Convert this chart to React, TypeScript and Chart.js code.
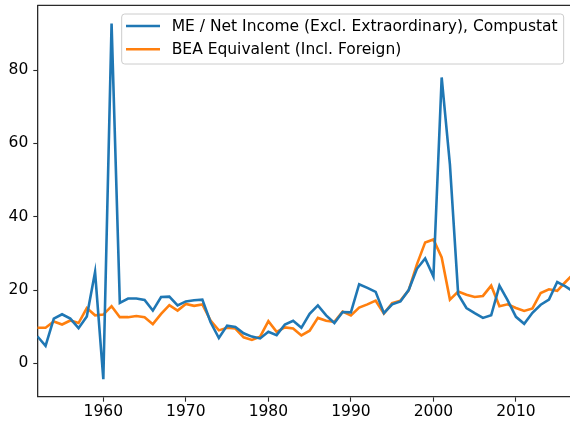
import React, { useEffect, useRef } from "react";
import { Chart, registerables } from "chart.js";

Chart.register(...registerables);

const years: number[] = [
  1952, 1953, 1954, 1955, 1956, 1957, 1958, 1959, 1960, 1961,
  1962, 1963, 1964, 1965, 1966, 1967, 1968, 1969, 1970, 1971,
  1972, 1973, 1974, 1975, 1976, 1977, 1978, 1979, 1980, 1981,
  1982, 1983, 1984, 1985, 1986, 1987, 1988, 1989, 1990, 1991,
  1992, 1993, 1994, 1995, 1996, 1997, 1998, 1999, 2000, 2001,
  2002, 2003, 2004, 2005, 2006, 2007, 2008, 2009, 2010, 2011,
  2012, 2013, 2014, 2015, 2016, 2017,
];

const meNetIncome: number[] = [
  7.4, 4.8, 12.2, 13.4, 12.2, 9.6, 12.8, 24.9, -4.3, 92.7,
  16.5, 17.7, 17.7, 17.3, 14.4, 18.1, 18.2, 15.8, 16.9, 17.2,
  17.4, 11.2, 6.9, 10.3, 9.9, 8.2, 7.3, 6.8, 8.6, 7.7,
  10.6, 11.6, 9.7, 13.5, 15.8, 13.1, 11.0, 14.0, 13.9, 21.6,
  20.6, 19.5, 13.7, 16.1, 16.9, 20.0, 25.8, 28.6, 23.7, 78.0,
  54.2, 18.8, 15.1, 13.7, 12.4, 13.1, 21.2, 17.2, 12.7, 10.8,
  13.8, 16.0, 17.4, 22.2, 21.0, 19.5,
];

const beaEquivalent: number[] = [
  9.7, 9.7, 11.4, 10.6, 11.7, 11.0, 15.1, 13.1, 13.3, 15.6,
  12.6, 12.6, 12.9, 12.6, 10.7, 13.5, 15.9, 14.4, 16.2, 15.7,
  16.1, 11.7, 9.0, 9.7, 9.5, 7.1, 6.4, 7.3, 11.5, 8.6,
  9.8, 9.5, 7.6, 8.9, 12.4, 11.6, 11.3, 14.1, 13.1, 15.2,
  16.1, 17.1, 13.6, 16.4, 17.1, 19.9, 27.0, 33.0, 33.8, 28.9,
  17.4, 19.6, 18.7, 18.1, 18.4, 21.2, 15.6, 16.1, 15.1, 14.3,
  15.0, 19.2, 20.2, 19.8, 22.2, 24.5,
];

const seriesLabels: string[] = [
  "ME / Net Income (Excl. Extraordinary), Compustat",
  "BEA Equivalent (Incl. Foreign)",
];
const seriesColors: string[] = ["#1f77b4", "#ff7f0e"];

const xTicks: number[] = [1960, 1970, 1980, 1990, 2000, 2010];
const yTicks: number[] = [0, 20, 40, 60, 80];

const FONT = "DejaVu Sans";
const FONT_SIZE = 15.5;
const SPINE = "#2a2a2a";
const LINE_W = 2.6;

const framePlugin = {
  id: "frameAndLegend",
  afterDraw(chart: any) {
    const ctx = chart.ctx as CanvasRenderingContext2D;
    const area = chart.chartArea;
    ctx.save();
    // top spine
    ctx.strokeStyle = SPINE;
    ctx.lineWidth = 1.3;
    ctx.beginPath();
    ctx.moveTo(area.left, area.top);
    ctx.lineTo(area.right, area.top);
    ctx.stroke();

    // legend
    ctx.font = `${FONT_SIZE}px "${FONT}"`;
    const textX = 171.7;
    let maxW = 0;
    chart.data.datasets.forEach((ds: any) => {
      maxW = Math.max(maxW, ctx.measureText(ds.label).width);
    });
    const bx = 121.7;
    const by = 14;
    const bw = textX + maxW + 6 - bx;
    const bh = 50;
    const r = 3;
    ctx.beginPath();
    ctx.moveTo(bx + r, by);
    ctx.lineTo(bx + bw - r, by);
    ctx.arcTo(bx + bw, by, bx + bw, by + r, r);
    ctx.lineTo(bx + bw, by + bh - r);
    ctx.arcTo(bx + bw, by + bh, bx + bw - r, by + bh, r);
    ctx.lineTo(bx + r, by + bh);
    ctx.arcTo(bx, by + bh, bx, by + bh - r, r);
    ctx.lineTo(bx, by + r);
    ctx.arcTo(bx, by, bx + r, by, r);
    ctx.closePath();
    ctx.fillStyle = "rgba(255,255,255,0.8)";
    ctx.fill();
    ctx.strokeStyle = "#cccccc";
    ctx.lineWidth = 1;
    ctx.stroke();

    const rows = [26, 49.3];
    chart.data.datasets.forEach((ds: any, i: number) => {
      const yy = rows[i];
      ctx.strokeStyle = ds.borderColor;
      ctx.lineWidth = LINE_W;
      ctx.beginPath();
      ctx.moveTo(126, yy);
      ctx.lineTo(160, yy);
      ctx.stroke();
      ctx.fillStyle = "#000000";
      ctx.textAlign = "left";
      ctx.textBaseline = "middle";
      ctx.fillText(ds.label, textX, yy + 0.5);
    });
    ctx.restore();
  },
};

export default function App() {
  const canvasRef = useRef<HTMLCanvasElement | null>(null);

  useEffect(() => {
    document.body.style.margin = "0";
    const canvas = canvasRef.current;
    if (!canvas) return;
    const chart = new Chart(canvas, {
      type: "line",
      data: {
        datasets: [
          {
            label: seriesLabels[0],
            data: years.map((yr, i) => ({ x: yr, y: meNetIncome[i] })),
            borderColor: seriesColors[0],
            backgroundColor: seriesColors[0],
            borderWidth: LINE_W,
            pointRadius: 0,
            tension: 0,
            fill: false,
          },
          {
            label: seriesLabels[1],
            data: years.map((yr, i) => ({ x: yr, y: beaEquivalent[i] })),
            borderColor: seriesColors[1],
            backgroundColor: seriesColors[1],
            borderWidth: LINE_W,
            pointRadius: 0,
            tension: 0,
            fill: false,
          },
        ],
      },
      plugins: [framePlugin],
      options: {
        animation: false,
        responsive: false,
        maintainAspectRatio: false,
        layout: { padding: { top: 5.3, left: 0, right: 0, bottom: 0 } },
        plugins: {
          legend: { display: false },
          tooltip: { enabled: false },
        },
        scales: {
          x: {
            type: "linear",
            min: 1952,
            max: 2016.55,
            afterBuildTicks: (scale: any) => {
              scale.ticks = xTicks.map((v) => ({ value: v }));
            },
            afterFit: (scale: any) => {
              scale.height = 29.3;
              scale.paddingLeft = 0;
              scale.paddingRight = 0;
            },
            grid: {
              display: true,
              drawOnChartArea: false,
              drawTicks: true,
              tickLength: 5,
              tickColor: SPINE,
              tickWidth: 1.1,
            },
            border: { display: true, color: SPINE, width: 1.3 },
            ticks: {
              padding: 1,
              color: "#000000",
              font: { family: FONT, size: FONT_SIZE },
              maxRotation: 0,
              autoSkip: false,
              callback: (v: any) => String(v),
            },
          },
          y: {
            type: "linear",
            min: -9.1,
            max: 97.7,
            afterBuildTicks: (scale: any) => {
              scale.ticks = yTicks.map((v) => ({ value: v }));
            },
            afterFit: (scale: any) => {
              scale.width = 37.3;
              scale.paddingTop = 0;
              scale.paddingBottom = 0;
            },
            grid: {
              display: true,
              drawOnChartArea: false,
              drawTicks: true,
              tickLength: 4,
              tickColor: SPINE,
              tickWidth: 1.1,
            },
            border: { display: true, color: SPINE, width: 1.3 },
            ticks: {
              padding: 5,
              color: "#000000",
              font: { family: FONT, size: FONT_SIZE },
              autoSkip: false,
              callback: (v: any) => String(v),
            },
          },
        },
      },
    });
    return () => chart.destroy();
  }, []);

  return (
    <div style={{ position: "absolute", left: 0, top: 0, width: 570, height: 426 }}>
      <canvas ref={canvasRef} width={570} height={426} style={{ display: "block" }} />
    </div>
  );
}
